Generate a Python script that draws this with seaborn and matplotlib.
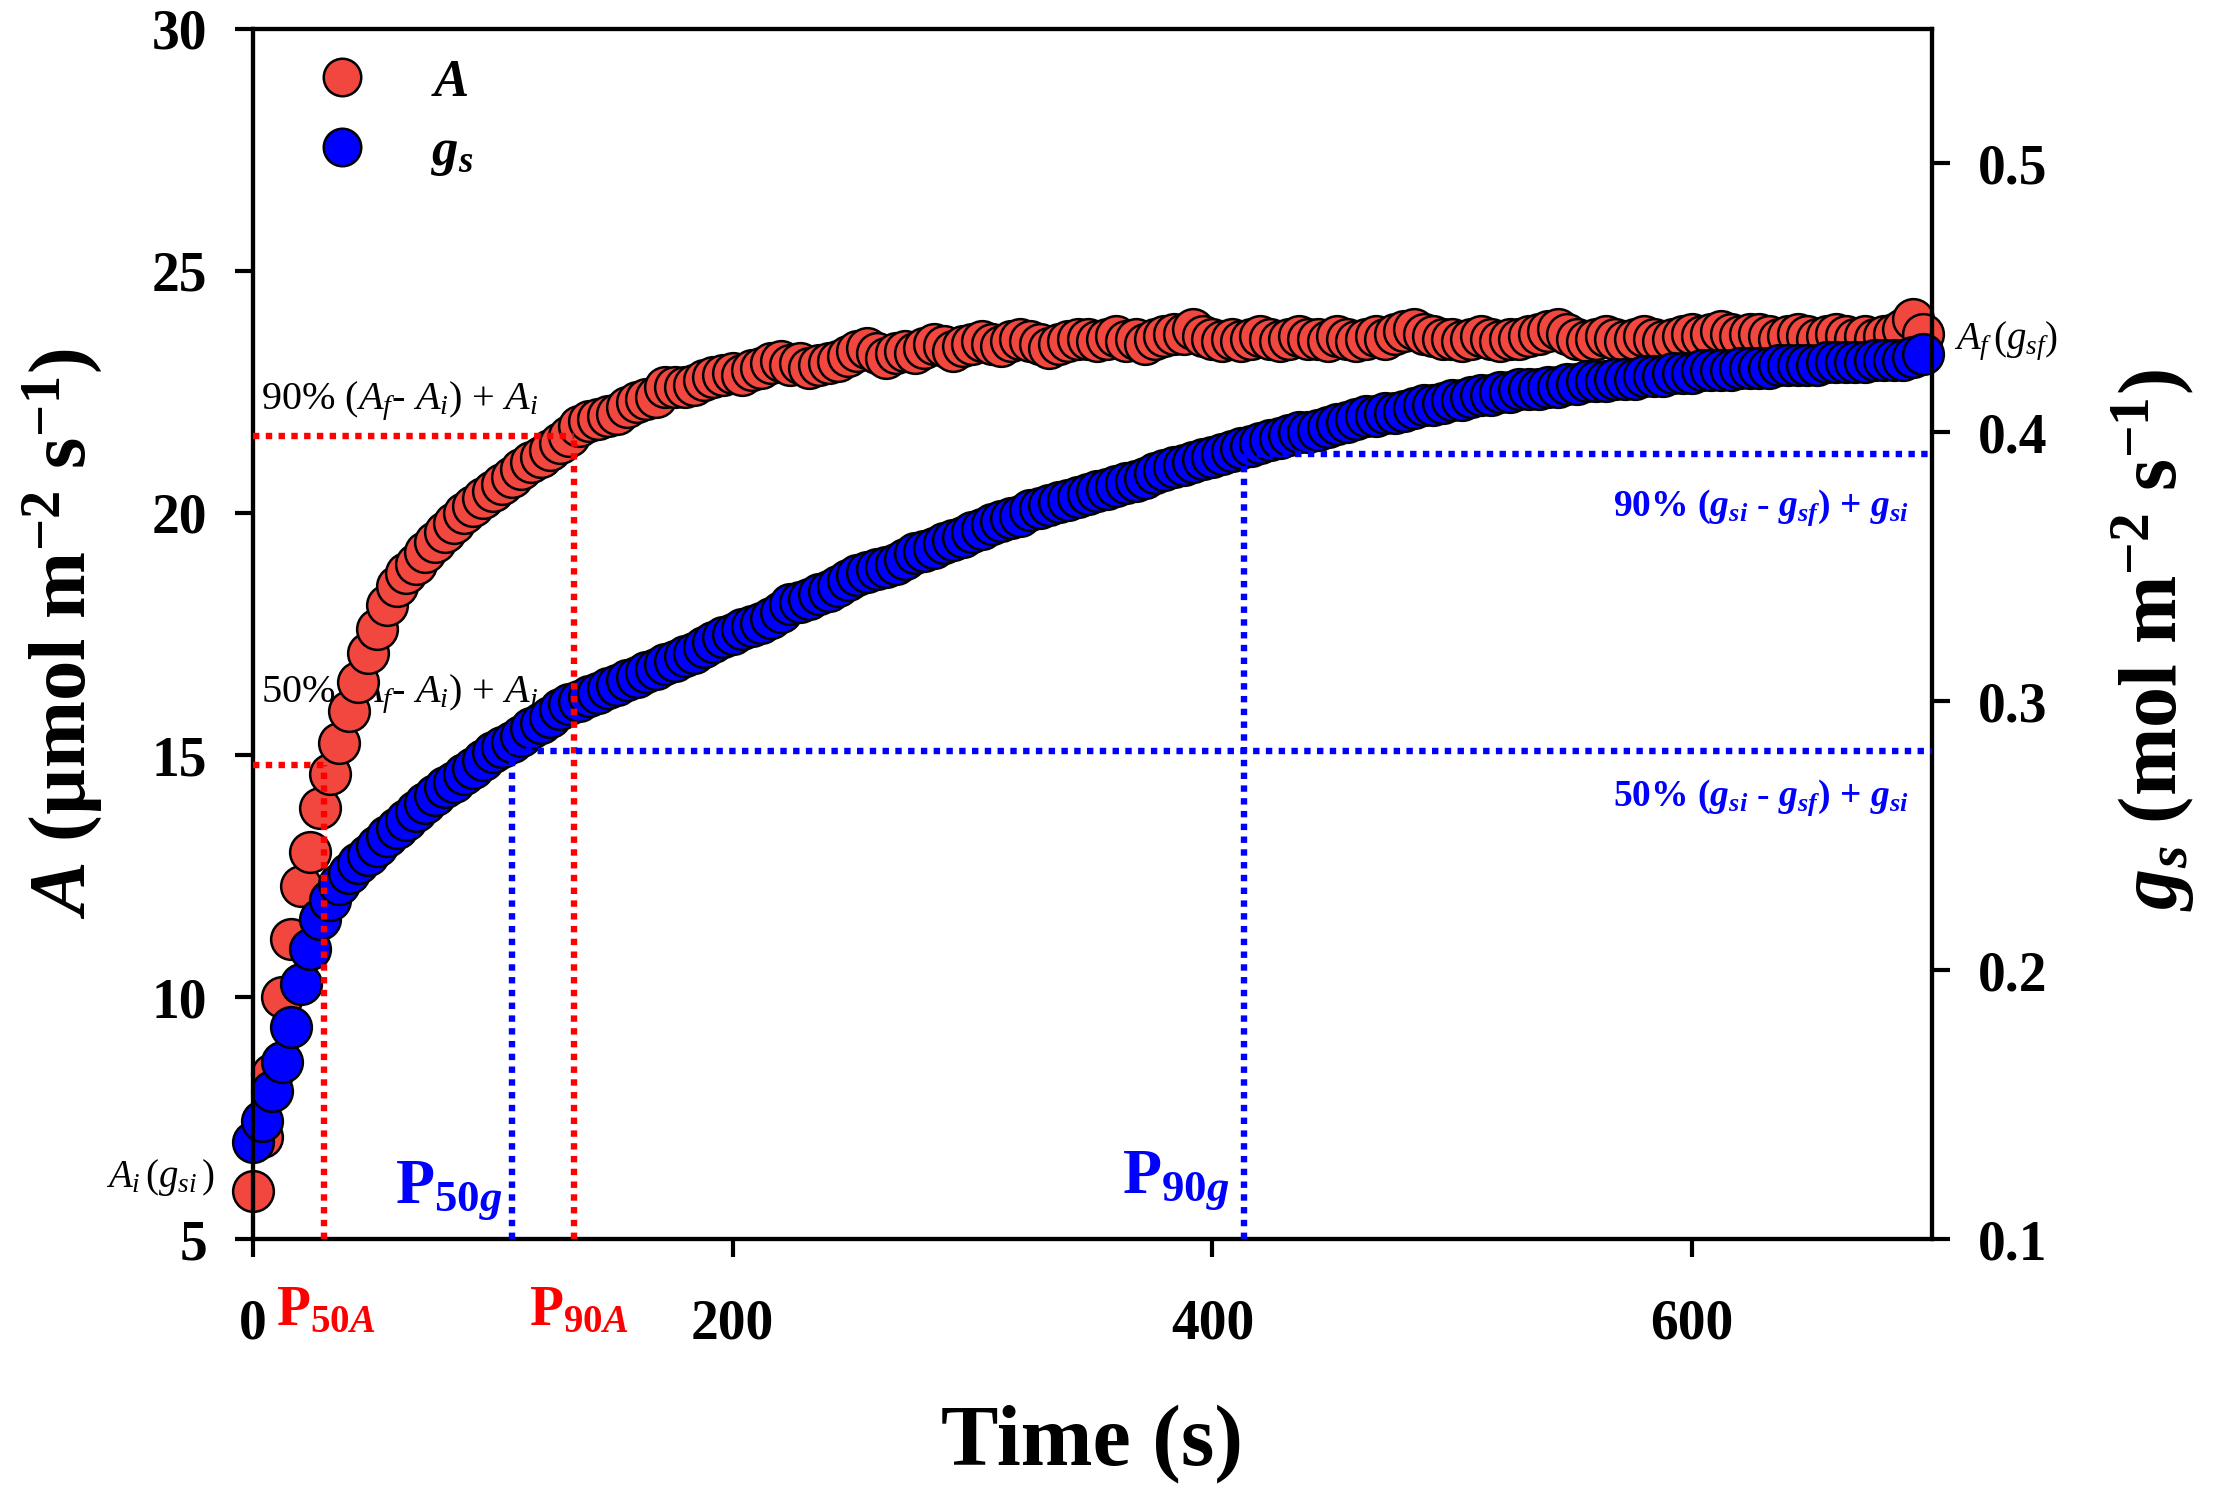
import matplotlib
matplotlib.use('Agg')
import matplotlib.pyplot as plt
from matplotlib.lines import Line2D
import seaborn as sns

# sampling times (s)
time_s = [0, 4, 8, 12, 16, 20, 24, 28, 32, 36, 40, 44, 48, 52, 56, 60, 64, 68, 72, 76,
          80, 84, 88, 92, 96, 100, 104, 108, 112, 116, 120, 124, 128, 132, 136, 140, 144, 148, 152, 156,
          160, 164, 168, 172, 176, 180, 184, 188, 192, 196, 200, 204, 208, 212, 216, 220, 224, 228, 232, 236,
          240, 244, 248, 252, 256, 260, 264, 268, 272, 276, 280, 284, 288, 292, 296, 300, 304, 308, 312, 316,
          320, 324, 328, 332, 336, 340, 344, 348, 352, 356, 360, 364, 368, 372, 376, 380, 384, 388, 392, 396,
          400, 404, 408, 412, 416, 420, 424, 428, 432, 436, 440, 444, 448, 452, 456, 460, 464, 468, 472, 476,
          480, 484, 488, 492, 496, 500, 504, 508, 512, 516, 520, 524, 528, 532, 536, 540, 544, 548, 552, 556,
          560, 564, 568, 572, 576, 580, 584, 588, 592, 596, 600, 604, 608, 612, 616, 620, 624, 628, 632, 636,
          640, 644, 648, 652, 656, 660, 664, 668, 672, 676, 680, 684, 688, 692, 696]

# net assimilation A (umol m-2 s-1)
A_vals = [6.0, 7.1, 8.4, 10.0, 11.2, 12.3, 13.0, 13.9, 14.6, 15.25, 15.9, 16.5, 17.1, 17.6, 18.1, 18.5, 18.75, 18.95, 19.2, 19.4,
          19.6, 19.8, 20.0, 20.15, 20.3, 20.45, 20.6, 20.75, 20.9, 21.05, 21.15, 21.3, 21.45, 21.6, 21.8, 21.9, 21.95, 22.0, 22.05, 22.2,
          22.3, 22.35, 22.4, 22.6, 22.6, 22.6, 22.65, 22.75, 22.8, 22.85, 22.9, 22.85, 22.95, 23.0, 23.1, 23.15, 23.05, 23.1, 23.0, 23.05,
          23.1, 23.15, 23.25, 23.35, 23.4, 23.3, 23.2, 23.3, 23.35, 23.3, 23.4, 23.5, 23.45, 23.35, 23.45, 23.5, 23.55, 23.5, 23.45, 23.55,
          23.6, 23.55, 23.5, 23.4, 23.5, 23.55, 23.6, 23.6, 23.55, 23.6, 23.65, 23.55, 23.6, 23.5, 23.6, 23.65, 23.7, 23.7, 23.8, 23.65,
          23.6, 23.55, 23.6, 23.55, 23.6, 23.65, 23.6, 23.55, 23.6, 23.65, 23.6, 23.6, 23.55, 23.65, 23.6, 23.55, 23.6, 23.65, 23.6, 23.7,
          23.75, 23.8, 23.7, 23.65, 23.6, 23.6, 23.55, 23.6, 23.65, 23.6, 23.55, 23.6, 23.6, 23.65, 23.7, 23.75, 23.8, 23.7, 23.6, 23.55,
          23.6, 23.65, 23.6, 23.55, 23.6, 23.65, 23.6, 23.55, 23.6, 23.65, 23.7, 23.65, 23.7, 23.75, 23.7, 23.65, 23.7, 23.7, 23.65, 23.6,
          23.65, 23.7, 23.65, 23.6, 23.65, 23.7, 23.65, 23.6, 23.65, 23.6, 23.65, 23.7, 23.8, 24.0, 23.7]

# stomatal conductance gs (mol m-2 s-1)
gs_vals = [0.136, 0.144, 0.155, 0.166, 0.179, 0.195, 0.208, 0.219, 0.226, 0.232, 0.236, 0.240, 0.243, 0.246, 0.250, 0.253, 0.256, 0.259, 0.262, 0.265,
           0.268, 0.270, 0.273, 0.275, 0.278, 0.281, 0.283, 0.285, 0.287, 0.290, 0.292, 0.294, 0.297, 0.299, 0.300, 0.302, 0.303, 0.305, 0.306, 0.308,
           0.309, 0.311, 0.312, 0.314, 0.315, 0.317, 0.318, 0.320, 0.322, 0.324, 0.325, 0.327, 0.328, 0.329, 0.331, 0.333, 0.336, 0.337, 0.338, 0.340,
           0.341, 0.343, 0.345, 0.347, 0.348, 0.349, 0.350, 0.351, 0.353, 0.355, 0.356, 0.357, 0.359, 0.360, 0.361, 0.363, 0.364, 0.366, 0.367, 0.368,
           0.369, 0.371, 0.372, 0.373, 0.374, 0.375, 0.376, 0.377, 0.378, 0.379, 0.380, 0.381, 0.382, 0.383, 0.385, 0.386, 0.387, 0.388, 0.389, 0.390,
           0.391, 0.392, 0.393, 0.394, 0.395, 0.396, 0.397, 0.398, 0.399, 0.400, 0.400, 0.401, 0.402, 0.403, 0.404, 0.405, 0.406, 0.406, 0.407, 0.407,
           0.408, 0.409, 0.410, 0.410, 0.411, 0.412, 0.412, 0.413, 0.414, 0.414, 0.415, 0.415, 0.416, 0.416, 0.416, 0.417, 0.417, 0.418, 0.418, 0.419,
           0.419, 0.419, 0.420, 0.420, 0.420, 0.421, 0.421, 0.421, 0.422, 0.422, 0.422, 0.423, 0.423, 0.423, 0.423, 0.424, 0.424, 0.424, 0.424, 0.425,
           0.425, 0.425, 0.425, 0.425, 0.426, 0.426, 0.426, 0.426, 0.426, 0.427, 0.427, 0.427, 0.427, 0.428, 0.429]

# 50 % and 90 % response levels and the times they are reached
A_50, A_90 = 14.8, 21.6
t_50A, t_90A = 29.5, 134
gs_50, gs_90 = 0.2815, 0.392
t_50g, t_90g = 108, 413

x_ticks = [0, 200, 400, 600]
A_ticks = [5, 10, 15, 20, 25, 30]
gs_ticks = [0.1, 0.2, 0.3, 0.4, 0.5]

red_c = '#F2473F'
blue_c = '#0000FF'

sns.set_style('ticks')
plt.rcParams['font.family'] = ['Liberation Serif', 'DejaVu Serif']
plt.rcParams['mathtext.fontset'] = 'custom'
plt.rcParams['mathtext.rm'] = 'Liberation Serif'
plt.rcParams['mathtext.it'] = 'Liberation Serif:italic'
plt.rcParams['mathtext.bf'] = 'Liberation Serif:italic:bold'
plt.rcParams['mathtext.sf'] = 'Liberation Serif:bold'
for key in ['text.color', 'axes.labelcolor', 'axes.edgecolor', 'xtick.color', 'ytick.color']:
    plt.rcParams[key] = 'black'

fig = plt.figure(figsize=(11.085, 7.465), dpi=200)
ax = fig.add_axes([0.114, 0.1701, 0.7575, 0.8105])
ax2 = ax.twinx()

sns.scatterplot(x=time_s, y=A_vals, ax=ax, color=red_c, edgecolor='black',
                linewidth=0.9, s=215, clip_on=False, legend=False, zorder=2)
sns.scatterplot(x=time_s, y=gs_vals, ax=ax2, color=blue_c, edgecolor='black',
                linewidth=0.9, s=215, clip_on=False, legend=False, zorder=2)

# dotted guide lines (all on the top axes so they sit above the markers)
dot = dict(lw=2.3, ls=(0, (1, 1)), dash_capstyle='butt', zorder=5, clip_on=False)
ax2.plot([0, t_90A], [A_90, A_90], color='red', transform=ax.transData, **dot)
ax2.plot([t_90A, t_90A], [5, A_90], color='red', transform=ax.transData, **dot)
ax2.plot([0, t_50A], [A_50, A_50], color='red', transform=ax.transData, **dot)
ax2.plot([t_50A, t_50A], [5, A_50], color='red', transform=ax.transData, **dot)
ax2.plot([t_50g, 700], [gs_50, gs_50], color=blue_c, **dot)
ax2.plot([t_50g, t_50g], [0.1, gs_50], color=blue_c, **dot)
ax2.plot([t_90g, 700], [gs_90, gs_90], color=blue_c, **dot)
ax2.plot([t_90g, t_90g], [0.1, gs_90], color=blue_c, **dot)

ax.set_xlim(0, 700)
ax.set_ylim(5, 30)
ax2.set_ylim(0.1, 0.55)
ax.set_xticks(x_ticks)
ax.set_yticks(A_ticks)
ax2.set_yticks(gs_ticks)

ax.tick_params(axis='both', direction='out', length=6.5, width=1.5, labelsize=20)
ax.tick_params(axis='x', pad=15)
ax.tick_params(axis='y', pad=10)
ax2.tick_params(axis='y', direction='out', length=6.5, width=1.5, labelsize=20, pad=10)
for lbl in ax.get_xticklabels() + ax.get_yticklabels() + ax2.get_yticklabels():
    lbl.set_fontweight('bold')
for a in (ax, ax2):
    for sp in a.spines.values():
        sp.set_linewidth(1.5)
        sp.set_visible(True)

# annotations
ax.text(3.5, 22.3, r'90% ($A_f$- $A_i$) + $A_i$', fontsize=14.5, va='center', ha='left', zorder=0.5)
ax.text(3.5, 16.25, r'50% ($A_f$- $A_i$) + $A_i$', fontsize=14.5, va='center', ha='left', zorder=0.5)
ax.text(-16, 6.28, r'$A_i\,(g_{si}\,)$', fontsize=14, va='center', ha='right')
ax.text(709, 23.55, r'$A_f\,(g_{sf})$', fontsize=14, va='center', ha='left')
ax2.text(690, 0.372, r'90% ($\mathbf{g}_{\mathbf{si}}$ - $\mathbf{g}_{\mathbf{sf}}$) + $\mathbf{g}_{\mathbf{si}}$',
         fontsize=13.5, fontweight='bold', color=blue_c, va='center', ha='right')
ax2.text(690, 0.264, r'50% ($\mathbf{g}_{\mathbf{si}}$ - $\mathbf{g}_{\mathbf{sf}}$) + $\mathbf{g}_{\mathbf{si}}$',
         fontsize=13.5, fontweight='bold', color=blue_c, va='center', ha='right')

ax.text(104, 5.76, r'P$_{\mathsf{50}\mathbf{g}}$', fontsize=23, fontweight='bold', color=blue_c,
        ha='right', va='baseline')
ax.text(407, 5.97, r'P$_{\mathsf{90}\mathbf{g}}$', fontsize=23, fontweight='bold', color=blue_c,
        ha='right', va='baseline')
ax.text(t_50A + 1, 3.22, r'P$_{\mathsf{50}\mathbf{A}}$', fontsize=20, fontweight='bold', color='red',
        ha='center', va='baseline', clip_on=False)
ax.text(t_90A + 2, 3.22, r'P$_{\mathsf{90}\mathbf{A}}$', fontsize=20, fontweight='bold', color='red',
        ha='center', va='baseline', clip_on=False)

ax.set_xlabel('Time (s)', fontsize=31, fontweight='bold')
ax.xaxis.set_label_coords(0.5, -0.137)
ax.set_ylabel(r'$\mathbf{A}$ (µmol m$^{\mathsf{-2}}$ s$^{\mathsf{-1}}$)', fontsize=29, fontweight='bold')
ax.yaxis.set_label_coords(-0.088, 0.5)
ax2.set_ylabel(r'$\mathbf{g}_{\mathbf{s}}$ (mol m$^{\mathsf{-2}}$ s$^{\mathsf{-1}}$)', fontsize=29.5, fontweight='bold')
ax2.yaxis.set_label_coords(1.106, 0.495)

handles = [Line2D([], [], ls='', marker='o', markersize=13.5, markerfacecolor=red_c,
                  markeredgecolor='black', markeredgewidth=0.9),
           Line2D([], [], ls='', marker='o', markersize=13.5, markerfacecolor=blue_c,
                  markeredgecolor='black', markeredgewidth=0.9)]
ax2.legend(handles, [r'$\mathbf{A}$', r'$\mathbf{g}_{\mathbf{s}}$'], loc='center left',
           bbox_to_anchor=(0.040, 0.926), frameon=False, fontsize=19, handlelength=0.85,
           handletextpad=1.25, labelspacing=0.4, borderpad=0, borderaxespad=0)

fig.savefig('out.png', dpi=200)
